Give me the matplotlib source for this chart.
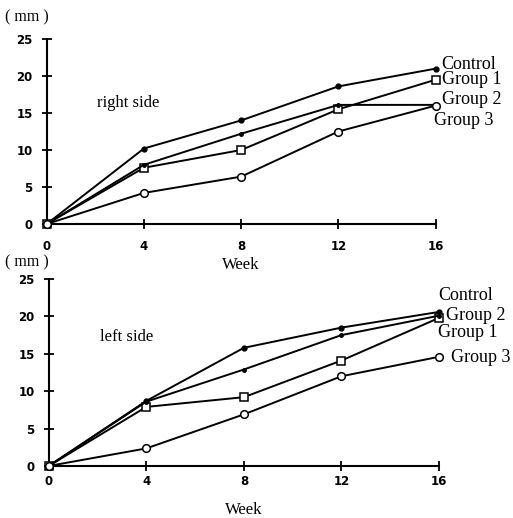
import matplotlib
matplotlib.use("Agg")
import matplotlib.pyplot as plt
from matplotlib.font_manager import FontProperties

weeks = [0, 4, 8, 12, 16]
xticks = [0, 4, 8, 12, 16]
yticks = [0, 5, 10, 15, 20, 25]

right_control = [0, 10.2, 14.0, 18.6, 21.0]
right_group1 = [0, 7.6, 10.0, 15.5, 19.5]
right_group2 = [0, 8.0, 12.2, 16.1, 16.1]
right_group3 = [0, 4.2, 6.4, 12.5, 16.0]

left_control = [0, 8.7, 15.8, 18.5, 20.6]
left_group1 = [0, 7.9, 9.2, 14.1, 19.8]
left_group2 = [0, 8.6, 12.9, 17.5, 20.1]
left_group3 = [0, 2.35, 6.9, 12.0, 14.6]

series_names = ["Control", "Group 1", "Group 2", "Group 3"]
right_label_pos = [(16.25, 21.6), (16.25, 19.5), (16.25, 16.8), (15.95, 14.05)]
left_label_pos = [(15.95, 22.8), (15.95, 17.8), (16.3, 20.1), (16.5, 14.5)]

SERIF = ["Liberation Serif", "DejaVu Serif"]
SANS_B = dict(family="DejaVu Sans", weight="bold", size=8.5)

fig = plt.figure(figsize=(5.13, 5.18), dpi=100)
ax_top = fig.add_axes([0.091, 0.5676, 0.758, 0.357])
ax_bot = fig.add_axes([0.0949, 0.1004, 0.761, 0.361])

styles = [
    dict(marker="o", markersize=3.5, markerfacecolor="black", markeredgecolor="black"),
    dict(marker="s", markersize=5.5, markerfacecolor="white", markeredgecolor="black", markeredgewidth=1.1),
    dict(marker="o", markersize=2.5, markerfacecolor="black", markeredgecolor="black"),
    dict(marker="o", markersize=5.5, markerfacecolor="white", markeredgecolor="black", markeredgewidth=1.1),
]

def draw(ax, data, labels, side_text, side_pos, xpad, labelpad):
    for vals, st in zip(data, styles):
        ax.plot(weeks, vals, color="black", linewidth=1.4, clip_on=False, zorder=3, **st)
    ax.set_xlim(0, 16)
    ax.set_ylim(0, 25)
    for s in ["top", "right"]:
        ax.spines[s].set_visible(False)
    for s in ["left", "bottom"]:
        ax.spines[s].set_linewidth(1.5)
    ax.set_xticks(xticks)
    ax.set_yticks(yticks)
    ax.tick_params(direction="inout", length=7, width=1.3)
    ax.tick_params(axis="y", pad=6.5)
    ax.tick_params(axis="x", pad=xpad)
    for lab in ax.get_xticklabels() + ax.get_yticklabels():
        lab.set_fontproperties(FontProperties(**SANS_B))
    for name, (x, y) in zip(series_names, labels):
        ax.text(x, y, name, family=SERIF, fontsize=13, va="center", ha="left", clip_on=False)
    ax.text(side_pos[0], side_pos[1], side_text, family=SERIF, fontsize=12, va="center", ha="left")
    ax.set_xlabel("Week", family=SERIF, fontsize=12, labelpad=labelpad)

draw(ax_top, [right_control, right_group1, right_group2, right_group3],
     right_label_pos, "right side", (2.07, 16.3), 8.3, 2.5)
draw(ax_bot, [left_control, left_group1, left_group2, left_group3],
     left_label_pos, "left side", (2.1, 17.2), 3.3, 10)

fig.text(5 / 513, 1 - 17 / 518, "( mm )", family=SERIF, fontsize=11.5, va="center", ha="left")
fig.text(5 / 513, 1 - 262 / 518, "( mm )", family=SERIF, fontsize=11.5, va="center", ha="left")

fig.savefig("out.png", dpi=100)
